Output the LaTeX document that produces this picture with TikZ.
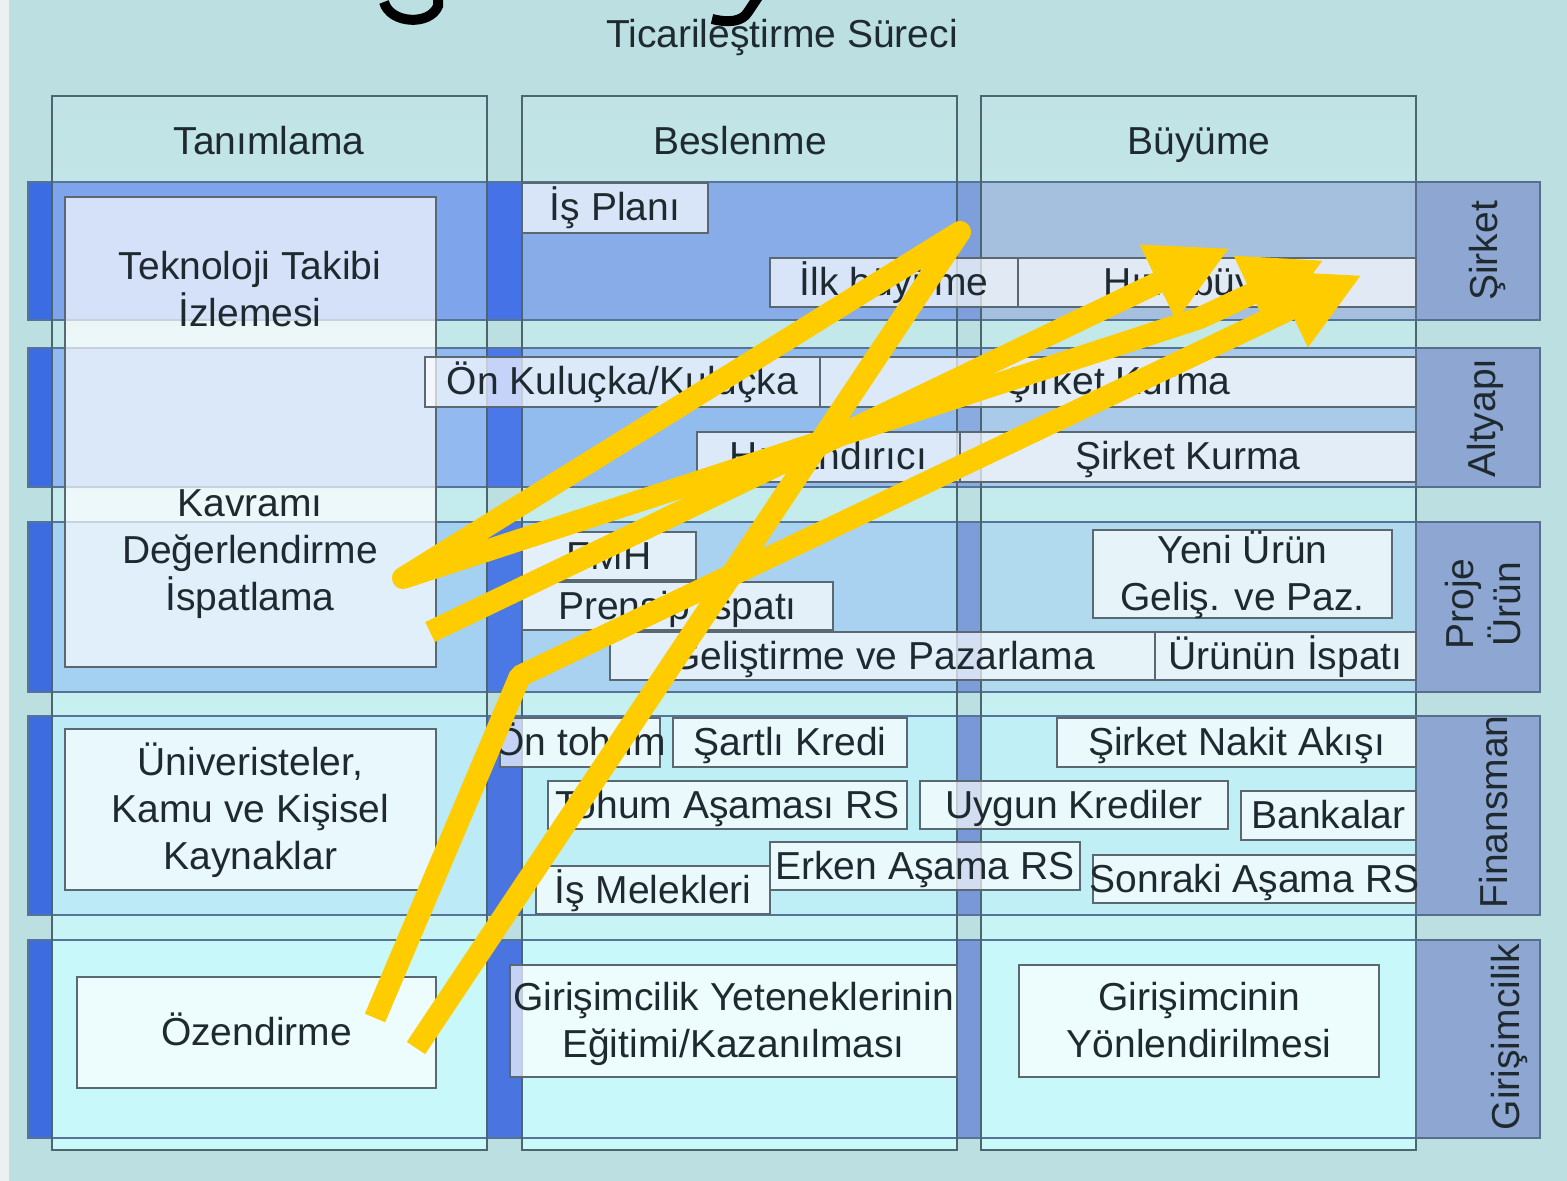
\documentclass[tikz,border=0pt]{standalone}
\usepackage{fontspec}
\setmainfont{Liberation Sans}
\usetikzlibrary{arrows.meta}
\definecolor{bgc}{HTML}{BCDFE2}
\definecolor{edgec}{HTML}{EDF0F0}
\definecolor{colA}{HTML}{C1E3E5}
\definecolor{colB}{HTML}{CAF9F9}
\definecolor{colline}{HTML}{4C6670}
\definecolor{boxline}{HTML}{5A6872}
\definecolor{bandline}{HTML}{56739A}
\definecolor{lblfill}{HTML}{8EA6D2}
\definecolor{lblline}{HTML}{566E8C}
\definecolor{txtc}{HTML}{1F2A30}
\definecolor{ycol}{HTML}{FFCC00}
\newcommand\st{\rule[-5pt]{0pt}{23pt}}
% band: y1 y2 leftbar col1 gap2 col2 gap3 col3
\newcommand\band[8]{%
  \definecolor{cA}{HTML}{#3}\definecolor{cB}{HTML}{#4}\definecolor{cC}{HTML}{#5}%
  \definecolor{cD}{HTML}{#6}\definecolor{cE}{HTML}{#7}\definecolor{cF}{HTML}{#8}%
  \fill[cA] (28,#1) rectangle (52,#2);
  \fill[cB] (52,#1) rectangle (487,#2);
  \fill[cC] (487,#1) rectangle (522,#2);
  \fill[cD] (522,#1) rectangle (957,#2);
  \fill[cE] (957,#1) rectangle (981,#2);
  \fill[cF] (981,#1) rectangle (1416,#2);
  \draw[bandline,line width=0.6pt] (28,#1) rectangle (1416,#2);
}
% inner box: x1 y1 x2 y2 name text
\newcommand\ibx[6]{%
  \draw[ibox] (#1,#2) rectangle (#3,#4);
  \node[txt] (#5) at ({(#1+#3)/2},{(#2+#4)/2}) {#6};
}
\begin{document}
\begin{tikzpicture}[x=0.5pt,y=-0.5pt,
  txt/.style={text=txtc,font=\fontsize{19.5}{23.5}\selectfont,align=center,inner sep=0pt},
  ibox/.style={draw=boxline,line width=1pt,fill=white,fill opacity=0.68},
  colbox/.style={draw=colline,line width=1.3pt},
  lblbox/.style={draw=lblline,line width=1pt,fill=lblfill},
  yline/.style={draw=ycol,line width=11pt},
  yarrow/.style={draw=ycol,line width=11pt,-{Triangle[width=39pt,length=40pt]}}]
\useasboundingbox (0,0) rectangle (1567,1181);
\fill[bgc] (0,0) rectangle (1567,1181);
\fill[edgec] (0,0) rectangle (9,1181);

% cut-off big title glyphs at the top
\draw[black,line width=5pt] (384,2) .. controls (390,24) and (430,26) .. (438,6) -- (438,-6);
\draw[black,line width=5pt] (760,-6) -- (748,12) .. controls (742,22) and (728,23) .. (712,19);

\node[txt] (title) at (782,35) {\st Ticarileştirme Süreci};

% columns
\shade[top color=colA,bottom color=colB] (52,96) rectangle (487,1150);
\shade[top color=colA,bottom color=colB] (522,96) rectangle (957,1150);
\shade[top color=colA,bottom color=colB] (981,96) rectangle (1416,1150);

% bands
\band{182}{320}{3C6CE4}{7EA4EC}{4672E8}{88ACE8}{7F9FDC}{A4C0DE}
\band{348}{487}{3C6CE4}{92BAF0}{4A78E8}{92BCEE}{8AAAE2}{AACAEA}
\band{522}{692}{3D6CE0}{A4D0F2}{4A78E4}{A8D2F0}{7C9CDA}{B2DAEE}
\band{716}{915}{3D6CE0}{BCEAF6}{4A74E0}{BEEEF6}{7898D8}{C0F0F6}
\band{940}{1138}{3D6CE0}{C8F8FA}{4A74E0}{C8F8FA}{7898D8}{C8F8FA}

% column outlines
\draw[colbox] (52,96) rectangle (487,1150);
\draw[colbox] (522,96) rectangle (957,1150);
\draw[colbox] (981,96) rectangle (1416,1150);
\node[txt] (h1) at (269,142) {\st Tanımlama};
\node[txt] (h2) at (740,142) {\st Beslenme};
\node[txt] (h3) at (1199,142) {\st Büyüme};

% right labels
\draw[lblbox] (1416,182) rectangle (1540,320);
\node[txt,rotate=90] (l1) at (1484,251) {\st Şirket};
\draw[lblbox] (1416,348) rectangle (1540,487);
\node[txt,rotate=90] (l2) at (1482,418) {\st Altyapı};
\draw[lblbox] (1416,522) rectangle (1540,692);
\node[txt,rotate=90] (l3) at (1484,604) {\st Proje\\\st Ürün};
\draw[lblbox] (1416,716) rectangle (1540,915);
\node[txt,rotate=90] (l4) at (1494,812) {\st Finansman};
\draw[lblbox] (1416,940) rectangle (1540,1138);
\node[txt,rotate=90] (l5) at (1506,1037) {\st Girişimcilik};

% column 1 boxes
\draw[ibox] (65,197) rectangle (436,667);
\node[txt] (tek) at (250,290) {\st Teknoloji Takibi\\\st İzlemesi};
\node[txt] (kav) at (250,550) {\st Kavramı\\\st Değerlendirme\\\st İspatlama};
\ibx{65}{729}{436}{890}{uni}{\st Üniveristeler,\\\st Kamu ve Kişisel\\\st Kaynaklar}
\ibx{77}{977}{436}{1088}{oze}{\st Özendirme}

% Şirket row
\ibx{522}{183}{708}{233}{isp}{\st İş Planı}
\ibx{770}{258}{1018}{307}{ilk}{\st İlk büyüme}
\ibx{1018}{258}{1416}{307}{hiz}{\st Hızlı büyüme}

% Altyapı row
\ibx{425}{357}{820}{407}{onk}{\st Ön Kuluçka/Kuluçka}
\ibx{820}{357}{1416}{407}{sk1}{\st Şirket Kurma}
\ibx{697}{432}{960}{482}{hzl}{\st Hızlandırıcı}
\ibx{960}{432}{1416}{482}{sk2}{\st Şirket Kurma}

% Proje Ürün row
\ibx{522}{532}{696}{580}{fmh}{\st FMH}
\ibx{522}{582}{833}{630}{pri}{\st Prensip İspatı}
\ibx{610}{632}{1155}{680}{gel}{\st Geliştirme ve Pazarlama}
\ibx{1155}{632}{1416}{680}{uru}{\st Ürünün İspatı}
\ibx{1093}{530}{1392}{618}{yen}{\st Yeni Ürün\\\st Geliş. ve Paz.}

% Finansman row
\ibx{500}{718}{660}{767}{ont}{\st Ön tohum}
\ibx{673}{718}{907}{767}{sar}{\st Şartlı Kredi}
\ibx{548}{781}{907}{829}{toh}{\st Tohum Aşaması RS}
\ibx{920}{781}{1228}{829}{uyg}{\st Uygun Krediler}
\ibx{1241}{791}{1416}{840}{ban}{\st Bankalar}
\ibx{1057}{718}{1416}{767}{nak}{\st Şirket Nakit Akışı}
\ibx{536}{866}{770}{914}{mel}{\st İş Melekleri}
\ibx{770}{842}{1080}{890}{erk}{\st Erken Aşama RS}
\ibx{1093}{855}{1416}{903}{son}{\st Sonraki Aşama RS}

% Girişimcilik row
\ibx{510}{965}{957}{1077}{gye}{\st Girişimcilik Yeteneklerinin\\\st Eğitimi/Kazanılması}
\ibx{1019}{965}{1379}{1077}{gyo}{\st Girişimcinin\\\st Yönlendirilmesi}

% yellow arrows
\coordinate (a0) at (416,1048);
\coordinate (a1) at (960,232);
\coordinate (a2) at (403,578);
\coordinate (a3) at (1200,318);
\coordinate (a4) at (1324,260);
\coordinate (b0) at (375,1018);
\coordinate (b1) at (520,676);
\coordinate (b2) at (1362,275);
\coordinate (c0) at (430,632);
\coordinate (c1) at (1230,248);
\draw[yarrow,line join=bevel] (b0) -- (b1) -- (b2);
\draw[yarrow] (c0) -- (c1);
\draw[yarrow,line join=round] (a0) -- (a1) -- (a2) -- (a3) -- (a4);
\end{tikzpicture}
\end{document}
